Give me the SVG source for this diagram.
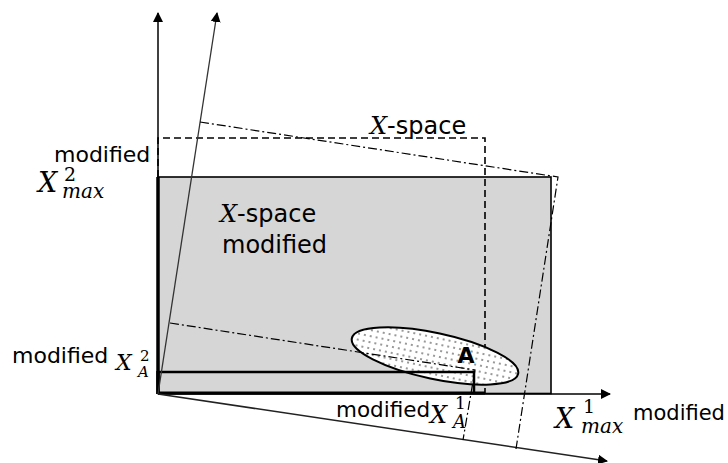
<svg xmlns="http://www.w3.org/2000/svg" width="728" height="463" viewBox="0 0 728 463">
<defs>
<style>
.s{font-family:"DejaVu Sans","Liberation Sans",sans-serif;fill:#000}
.m{font-family:"DejaVu Serif","Liberation Serif",serif;font-style:italic;fill:#000}
.d{font-family:"DejaVu Serif","Liberation Serif",serif;font-style:normal;fill:#000}
.ax{stroke:#000;stroke-width:1.5;fill:none}
.dd{stroke:#000;stroke-width:1.2;fill:none;stroke-dasharray:9 3 2 3}
.dash{stroke:#000;stroke-width:1.6;fill:none;stroke-dasharray:7 4}
</style>
<marker id="arr" markerWidth="10" markerHeight="10" refX="9" refY="5" orient="auto" markerUnits="userSpaceOnUse" viewBox="0 0 10 10">
<path d="M0,0 L10,5 L0,10 z" fill="#000"/>
</marker>
<pattern id="dots" width="6" height="6" patternUnits="userSpaceOnUse">
<rect width="6" height="6" fill="#fff"/>
<circle cx="2" cy="2" r="0.75" fill="#000"/>
</pattern>
</defs>
<rect width="728" height="463" fill="#fff"/>

<g id="space-modified">
<rect x="158" y="177" width="393" height="216.5" fill="#d6d6d6" stroke="#000" stroke-width="1.6"/>
<line x1="158" y1="177" x2="158" y2="394" stroke="#000" stroke-width="3.5"/>
</g>

<g id="x-space">
<polyline class="dash" points="158,177 158,138 485,138 485,393"/>
</g>

<g id="region-A">
<ellipse cx="435" cy="356" rx="85" ry="23" transform="rotate(12 435 356)" fill="url(#dots)" stroke="#000" stroke-width="2"/>
<text class="s" x="466" y="363" font-size="22" font-weight="bold" text-anchor="middle">A</text>
</g>

<g id="xa-box">
<polyline points="158,372 474,372 474,393" fill="none" stroke="#000" stroke-width="2.5"/>
<line x1="158" y1="371" x2="158" y2="394" stroke="#000" stroke-width="3.5"/>
<line x1="158" y1="393" x2="485" y2="393" stroke="#000" stroke-width="3"/>
</g>

<g id="connectors">
<line class="ax" x1="158" y1="394" x2="158" y2="13" marker-end="url(#arr)"/>
<line class="ax" x1="158" y1="394" x2="610" y2="394" marker-end="url(#arr)"/>
<line x1="158" y1="394" x2="217" y2="13" stroke="#333" stroke-width="1.3" marker-end="url(#arr)"/>
<line x1="158" y1="394" x2="607" y2="461" stroke="#222" stroke-width="1.5" marker-end="url(#arr)"/>
<polyline class="dd" points="200,122 558,177 516,449"/>
<polyline class="dd" points="170,323 475,370 463,440"/>
</g>

<g id="labels">
<text x="370" y="134" font-size="24"><tspan class="m">X</tspan><tspan class="s">-space</tspan></text>
<text x="220" y="222" font-size="24"><tspan class="m">X</tspan><tspan class="s">-space</tspan></text>
<text class="s" x="222" y="253" font-size="24">modified</text>
<text class="s" x="54" y="162" font-size="22">modified</text>
<text class="m" x="38" y="192" font-size="27">X<tspan class="d" x="64" y="181" font-size="19">2</tspan><tspan x="62" y="198" font-size="20">max</tspan></text>
<text class="s" x="12" y="363" font-size="22">modified</text>
<text class="m" x="116" y="370" font-size="22">X<tspan class="d" x="140" y="361" font-size="15">2</tspan><tspan x="138" y="377" font-size="15">A</tspan></text>
<text class="s" x="336" y="417" font-size="21.5">modified</text>
<text class="m" x="430" y="423" font-size="24">X<tspan class="d" x="455" y="409" font-size="17">1</tspan><tspan x="453" y="428" font-size="18">A</tspan></text>
<text class="m" x="555" y="428" font-size="27">X<tspan class="d" x="583" y="413" font-size="19">1</tspan><tspan x="581" y="433" font-size="20">max</tspan></text>
<text class="s" x="633" y="420" font-size="21">modified</text>
</g>
</svg>
